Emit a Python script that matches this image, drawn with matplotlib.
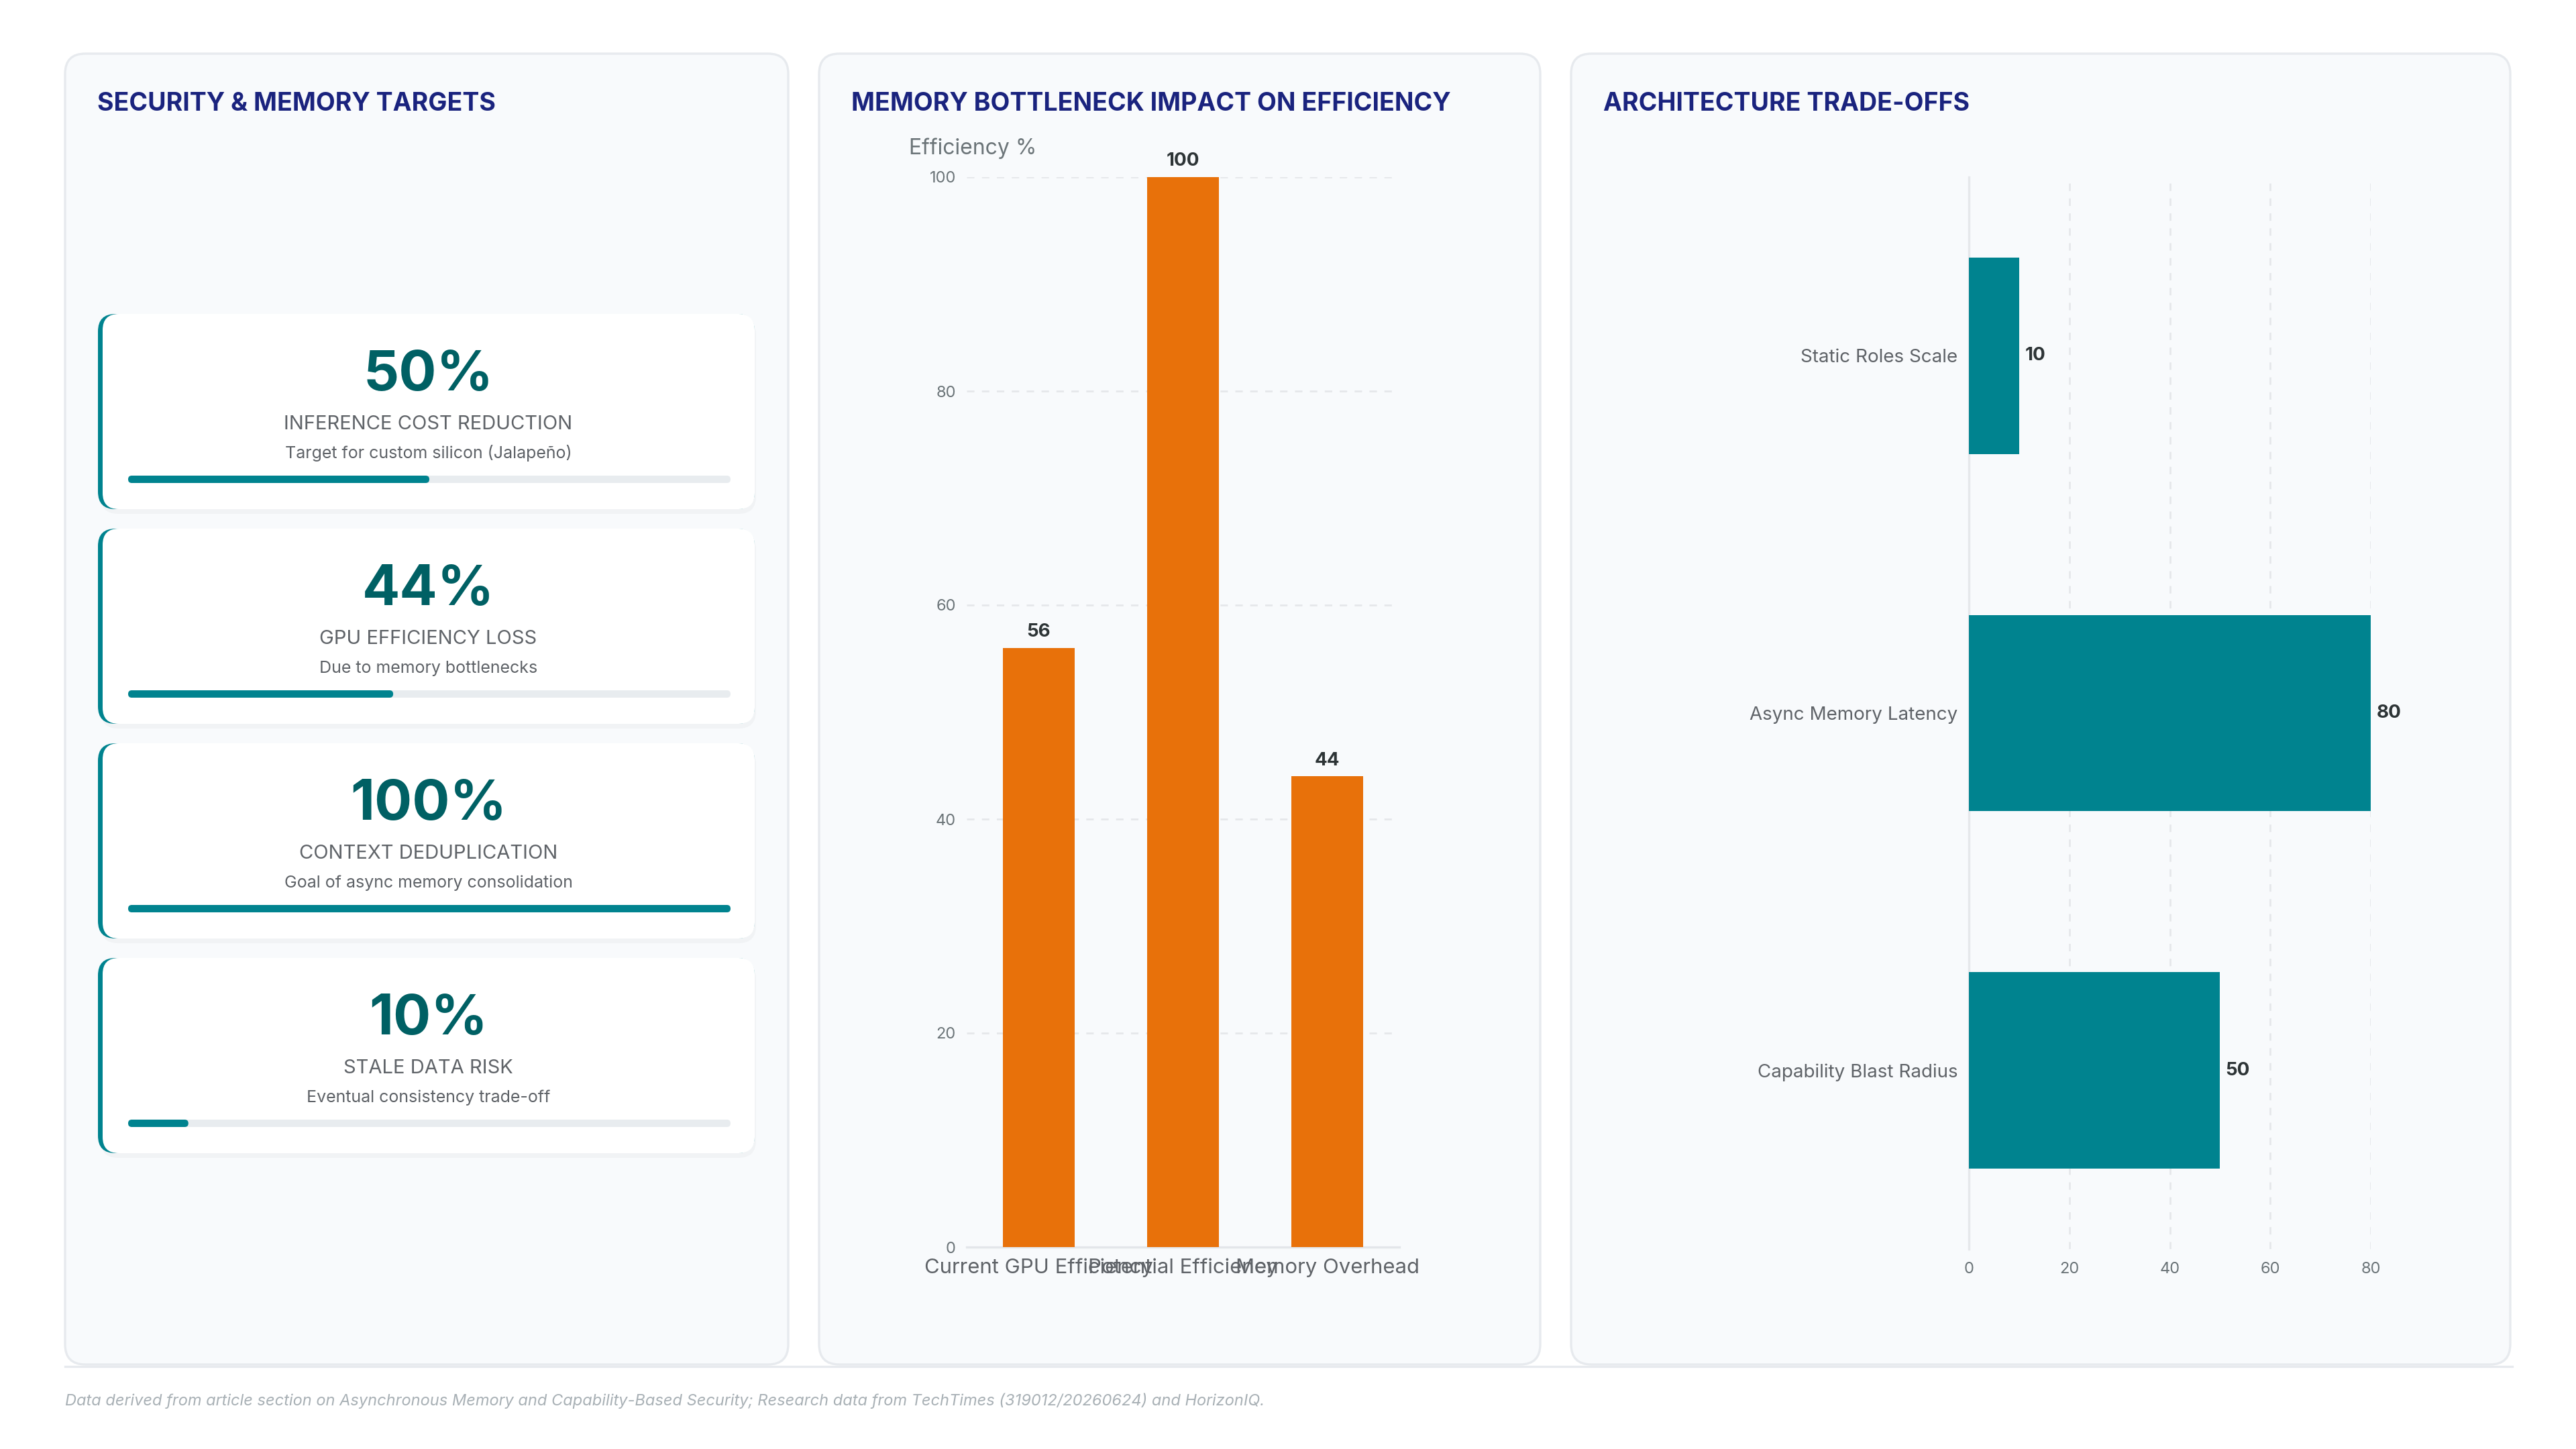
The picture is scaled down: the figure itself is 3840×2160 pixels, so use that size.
import matplotlib
matplotlib.use("Agg")
import matplotlib.pyplot as plt
from matplotlib.patches import FancyBboxPatch

plt.rcParams['font.family'] = ['Inter', 'DejaVu Sans']

# --- data ---
metric_values = [50, 44, 100, 10]
metric_labels = ["INFERENCE COST REDUCTION", "GPU EFFICIENCY LOSS",
                 "CONTEXT DEDUPLICATION", "STALE DATA RISK"]
metric_notes = ["Target for custom silicon (Jalapeño)", "Due to memory bottlenecks",
                "Goal of async memory consolidation", "Eventual consistency trade-off"]

efficiency_categories = ["Current GPU Efficiency", "Potential Efficiency", "Memory Overhead"]
efficiency_values = [56, 100, 44]
efficiency_ticks = [0, 20, 40, 60, 80, 100]

tradeoff_labels = ["Static Roles Scale", "Async Memory Latency", "Capability Blast Radius"]
tradeoff_values = [10, 80, 50]
tradeoff_ticks = [0, 20, 40, 60, 80]

footer = ("Data derived from article section on Asynchronous Memory and Capability-Based Security; "
          "Research data from TechTimes (319012/20260624) and HorizonIQ.")

# colours
NAVY = '#1A237E'
TEAL = '#00838F'
DARK_TEAL = '#006064'
ORANGE = '#E8710A'
GREY = '#5F6368'
TICK = '#6B7478'
GRID = '#E6E8EB'
PANEL = '#F8FAFC'
EDGE = '#E7EAEE'

W, H = 3840, 2160
fig = plt.figure(figsize=(19.2, 10.8), dpi=200)
fig.patch.set_facecolor('white')

# background layer in pixel units
bg = fig.add_axes([0, 0, 1, 1])
bg.set_xlim(0, W)
bg.set_ylim(H, 0)
bg.axis('off')
bg.set_zorder(0)


def rbox(x0, y0, x1, y1, r, **kw):
    p = FancyBboxPatch((x0, y0), x1 - x0, y1 - y0,
                       boxstyle=f"round,pad=0,rounding_size={r}", **kw)
    bg.add_patch(p)


def fx(px):
    return px / W


def fy(py):
    return 1 - py / H


# panels
panels = [(97, 1175, "SECURITY & MEMORY TARGETS"),
          (1221, 2296, "MEMORY BOTTLENECK IMPACT ON EFFICIENCY"),
          (2342, 3742, "ARCHITECTURE TRADE-OFFS")]
for x0, x1, title in panels:
    rbox(x0, 80, x1, 2034, 30, fc=PANEL, ec=EDGE, lw=1.2)
    bg.text(x0 + 48, 155, title, fontsize=13.5, fontweight='bold', color=NAVY,
            ha='left', va='center')

bg.plot([97, 3745], [2037, 2037], color=EDGE, lw=1.2)

# metric cards
card_x0, card_x1 = 146, 1125
track_x0, track_x1 = 191, 1089
for i, (val, lab, note) in enumerate(zip(metric_values, metric_labels, metric_notes)):
    top = 468 + i * 320
    bot = top + 291
    rbox(card_x0 + 4, top + 6, card_x1 + 2, bot + 7, 26, fc='#1F2937', alpha=0.03, ec='none')
    rbox(card_x0, top, card_x1, bot, 26, fc=TEAL, ec='none')
    rbox(card_x0 + 7, top, card_x1, bot, 24, fc='white', ec='none')
    cx = (card_x0 + card_x1) / 2 + 3
    bg.text(cx, top + 92, f"{val}%", fontsize=30, fontweight='bold', color=DARK_TEAL,
            ha='center', va='center')
    bg.text(cx, top + 164, lab, fontsize=10.5, color=GREY, ha='center', va='center')
    bg.text(cx, top + 208, note, fontsize=9, color=GREY, ha='center', va='center')
    ty = top + 241
    rbox(track_x0, ty, track_x1, ty + 11, 5.5, fc='#E8ECEF', ec='none')
    fill = (track_x1 - track_x0) * val / 100
    rbox(track_x0, ty, track_x0 + fill, ty + 11, 5.5, fc=TEAL, ec='none')

# middle: vertical bars
ax1 = fig.add_axes([fx(1441), fy(1859), (2086 - 1441) / W, (1859 - 264) / H])
ax1.set_zorder(1)
ax1.patch.set_alpha(0)
xs = range(len(efficiency_values))
ax1.bar(xs, efficiency_values, width=0.5, color=ORANGE, zorder=3)
ax1.set_xlim(-0.5, 2.5)
ax1.set_ylim(0, 100)
ax1.set_yticks(efficiency_ticks)
ax1.set_xticks(list(xs))
ax1.set_xticklabels(efficiency_categories, fontsize=11.2, color=GREY)
ax1.yaxis.grid(True, linestyle=(0, (4, 4)), color=GRID, lw=1)
ax1.set_axisbelow(True)
for s in ['top', 'right', 'left']:
    ax1.spines[s].set_visible(False)
ax1.spines['bottom'].set_color('#E3E6EA')
ax1.spines['bottom'].set_linewidth(1.2)
ax1.tick_params(axis='y', length=0, pad=5.8, labelsize=8.5, labelcolor=TICK)
ax1.tick_params(axis='x', length=0, pad=6)
for i, v in enumerate(efficiency_values):
    ax1.annotate(str(v), (i, v), xytext=(0, 8.5), textcoords='offset points',
                 ha='center', va='center', fontsize=10, fontweight='bold',
                 color='#2D3436', annotation_clip=False)
fig.text(fx(1355), fy(221), "Efficiency %", fontsize=11.5, color=TICK,
         ha='left', va='center')

# right: horizontal bars
ax2 = fig.add_axes([fx(2935), fy(1862), (3534 - 2935) / W, (1862 - 264) / H])
ax2.set_zorder(1)
ax2.patch.set_alpha(0)
ys = range(len(tradeoff_values))
ax2.barh(ys, tradeoff_values, height=0.55, color=TEAL, zorder=3)
ax2.set_ylim(2.5, -0.5)
ax2.set_xlim(0, 80)
ax2.set_xticks(tradeoff_ticks)
ax2.set_yticks(list(ys))
ax2.set_yticklabels(tradeoff_labels, fontsize=10, color=GREY)
ax2.xaxis.grid(True, linestyle=(0, (4, 4)), color=GRID, lw=1)
ax2.set_axisbelow(True)
for s in ['top', 'right', 'bottom']:
    ax2.spines[s].set_visible(False)
ax2.spines['left'].set_color('#E6E8EB')
ax2.spines['left'].set_linewidth(1.2)
ax2.tick_params(axis='y', length=0, pad=6)
ax2.tick_params(axis='x', length=0, pad=7, labelsize=8.5, labelcolor=TICK)
for i, v in enumerate(tradeoff_values):
    ax2.annotate(str(v), (v, i), xytext=(3, 0), textcoords='offset points',
                 ha='left', va='center', fontsize=10, fontweight='bold',
                 color='#2D3436', annotation_clip=False)

fig.text(fx(97), fy(2088), footer, fontsize=8.5, style='italic', color='#A8B0B5',
         ha='left', va='center')

fig.savefig('out.png', dpi=200, facecolor='white')
